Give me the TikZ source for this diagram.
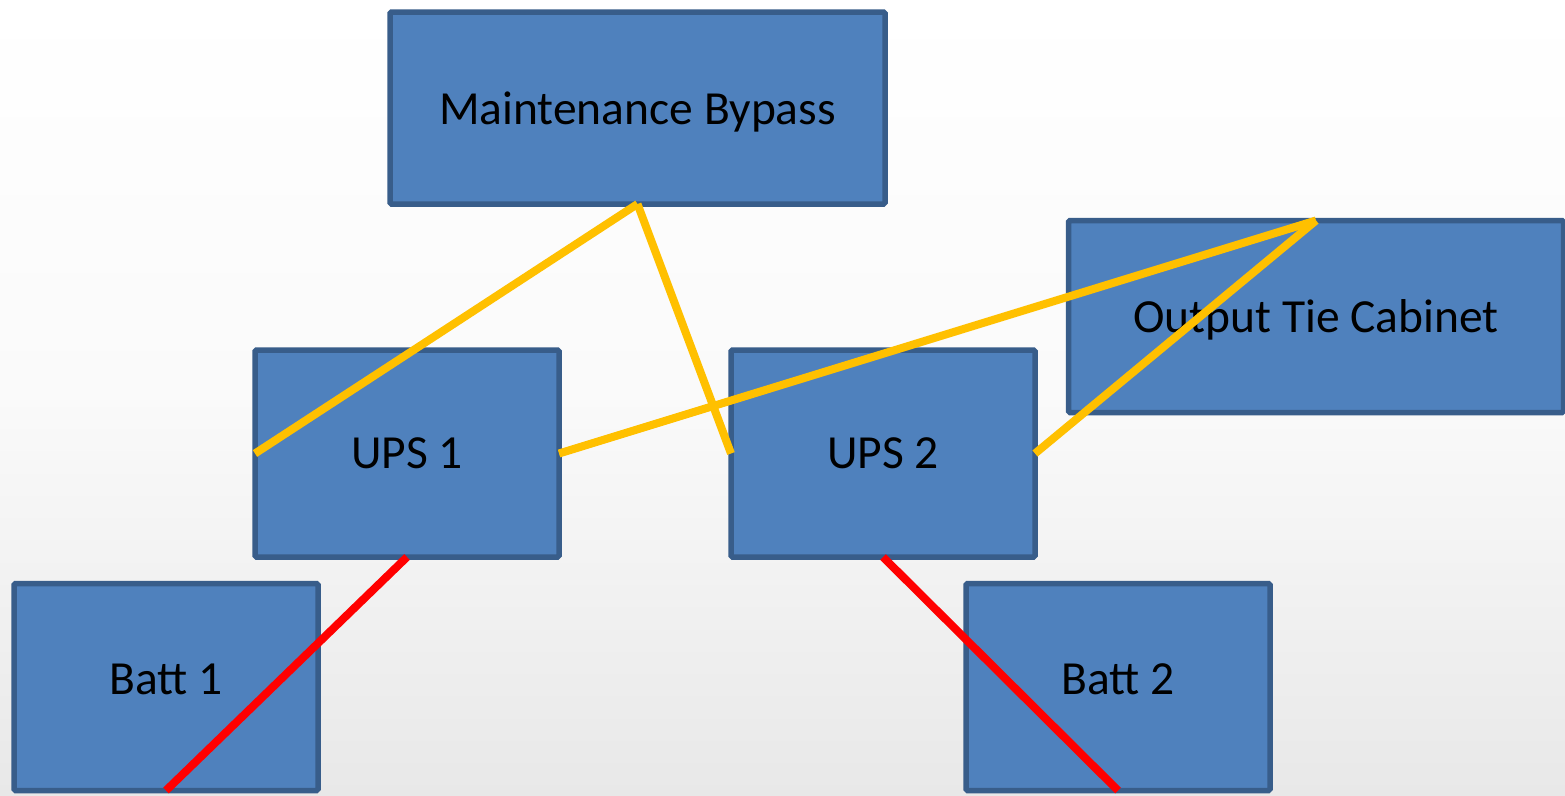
\documentclass[tikz,border=0pt]{standalone}
\usepackage{fontspec}
\setmainfont{Carlito}
\definecolor{boxfill}{HTML}{4F81BD}
\definecolor{boxline}{HTML}{385D8A}
\definecolor{feed}{HTML}{FFC000}
\definecolor{dcline}{HTML}{FF0000}
\begin{document}
\begin{tikzpicture}[x=1pt,y=-1pt,
  unit/.style={draw=boxline, fill=boxfill, line width=5.5pt, rounded corners=1.5pt,
    inner sep=0pt, outer sep=0pt, text depth=0pt,
    font=\fontsize{47.5}{57}\selectfont, text=black},
  ups/.style={unit, minimum width=304pt, minimum height=207pt},
  batt/.style={ups, text depth=16pt},
  wide/.style={unit, minimum width=495pt, minimum height=192pt},
  acfeed/.style={draw=feed, line width=8pt},
  dcfeed/.style={draw=dcline, line width=8pt}]
  % page and background
  \useasboundingbox (0,0) rectangle (1565,795);
  \shade[top color=white, bottom color=black!9, middle color=black!2] (0,0) rectangle (1565,795);
  % equipment
  \node[wide] (mb)  at (637.5,108) {Maintenance Bypass};
  \node[wide] (otc) at (1316,316.5) {Output Tie Cabinet};
  \node[ups]  (u1)  at (407,453.5) {UPS 1};
  \node[ups]  (u2)  at (883,453.5) {UPS 2};
  \node[batt] (b1)  at (166,687) {Batt 1};
  \node[batt] (b2)  at (1118,687) {Batt 2};
  % AC feeds
  \draw[acfeed] (mb.south) -- (u1.west);
  \draw[acfeed] (mb.south) -- (u2.west);
  \draw[acfeed] (u1.east) -- (otc.north);
  \draw[acfeed] (otc.north) -- (u2.east);
  % battery strings
  \draw[dcfeed] (u1.south) -- (b1.south);
  \draw[dcfeed] (u2.south) -- (b2.south);
\end{tikzpicture}
\end{document}
